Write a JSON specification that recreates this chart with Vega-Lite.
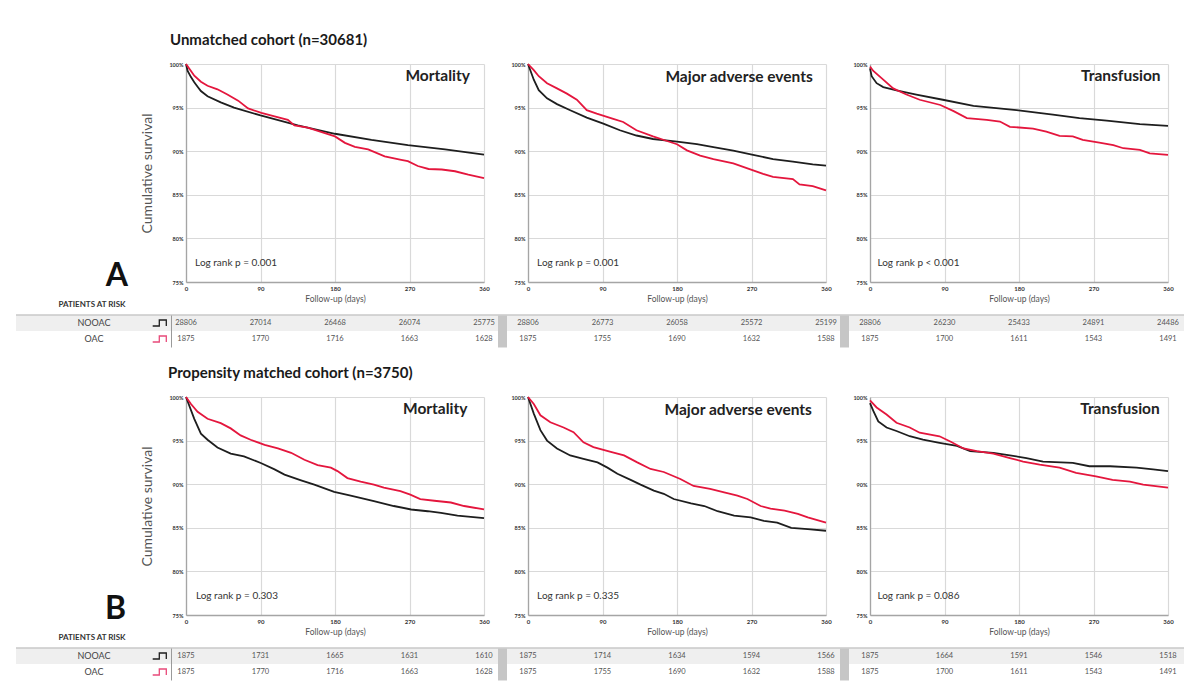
{
"$schema":"https://vega.github.io/schema/vega-lite/v6.json",
"background":"white",
"padding":{"left":15,"top":33,"right":7,"bottom":9},
"datasets":{
"A_Mortality":[
{"group":"NOOAC","day":0,"surv":100},{"group":"NOOAC","day":2,"surv":99.2},{"group":"NOOAC","day":6,"surv":98.5},{"group":"NOOAC","day":10,"surv":97.9},{"group":"NOOAC","day":14,"surv":97.4},{"group":"NOOAC","day":18,"surv":96.9},{"group":"NOOAC","day":26,"surv":96.3},{"group":"NOOAC","day":42,"surv":95.6},{"group":"NOOAC","day":58,"surv":95.0},{"group":"NOOAC","day":90,"surv":94.1},{"group":"NOOAC","day":135,"surv":92.95},{"group":"NOOAC","day":180,"surv":92.0},{"group":"NOOAC","day":224,"surv":91.3},{"group":"NOOAC","day":268,"surv":90.7},{"group":"NOOAC","day":313,"surv":90.2},{"group":"NOOAC","day":360,"surv":89.6},
{"group":"OAC","day":0,"surv":100},{"group":"OAC","day":6,"surv":99.2},{"group":"OAC","day":10,"surv":98.65},{"group":"OAC","day":18,"surv":97.96},{"group":"OAC","day":26,"surv":97.5},{"group":"OAC","day":38,"surv":97.1},{"group":"OAC","day":50,"surv":96.5},{"group":"OAC","day":63,"surv":95.8},{"group":"OAC","day":75,"surv":94.9},{"group":"OAC","day":91,"surv":94.4},{"group":"OAC","day":107,"surv":94.0},{"group":"OAC","day":123,"surv":93.6},{"group":"OAC","day":131,"surv":92.96},{"group":"OAC","day":147,"surv":92.7},{"group":"OAC","day":164,"surv":92.2},{"group":"OAC","day":180,"surv":91.7},{"group":"OAC","day":192,"surv":90.96},{"group":"OAC","day":204,"surv":90.5},{"group":"OAC","day":220,"surv":90.2},{"group":"OAC","day":240,"surv":89.4},{"group":"OAC","day":260,"surv":89.0},{"group":"OAC","day":268,"surv":88.85},{"group":"OAC","day":280,"surv":88.3},{"group":"OAC","day":293,"surv":87.96},{"group":"OAC","day":309,"surv":87.9},{"group":"OAC","day":325,"surv":87.7},{"group":"OAC","day":341,"surv":87.3},{"group":"OAC","day":360,"surv":86.9}],
"A_MAE":[
{"group":"NOOAC","day":0,"surv":100},{"group":"NOOAC","day":7,"surv":98.2},{"group":"NOOAC","day":13,"surv":97.0},{"group":"NOOAC","day":23,"surv":96.06},{"group":"NOOAC","day":35,"surv":95.4},{"group":"NOOAC","day":51,"surv":94.7},{"group":"NOOAC","day":71,"surv":93.86},{"group":"NOOAC","day":91,"surv":93.16},{"group":"NOOAC","day":111,"surv":92.4},{"group":"NOOAC","day":131,"surv":91.8},{"group":"NOOAC","day":151,"surv":91.4},{"group":"NOOAC","day":180,"surv":91.1},{"group":"NOOAC","day":204,"surv":90.8},{"group":"NOOAC","day":224,"surv":90.46},{"group":"NOOAC","day":248,"surv":90.07},{"group":"NOOAC","day":272,"surv":89.57},{"group":"NOOAC","day":296,"surv":89.1},{"group":"NOOAC","day":320,"surv":88.8},{"group":"NOOAC","day":344,"surv":88.5},{"group":"NOOAC","day":360,"surv":88.35},
{"group":"OAC","day":0,"surv":100},{"group":"OAC","day":7,"surv":99.3},{"group":"OAC","day":13,"surv":98.6},{"group":"OAC","day":23,"surv":97.8},{"group":"OAC","day":35,"surv":97.2},{"group":"OAC","day":47,"surv":96.6},{"group":"OAC","day":59,"surv":95.9},{"group":"OAC","day":71,"surv":94.7},{"group":"OAC","day":83,"surv":94.3},{"group":"OAC","day":103,"surv":93.7},{"group":"OAC","day":115,"surv":93.35},{"group":"OAC","day":131,"surv":92.4},{"group":"OAC","day":151,"surv":91.7},{"group":"OAC","day":167,"surv":91.2},{"group":"OAC","day":180,"surv":90.8},{"group":"OAC","day":192,"surv":90.1},{"group":"OAC","day":208,"surv":89.5},{"group":"OAC","day":224,"surv":89.1},{"group":"OAC","day":248,"surv":88.6},{"group":"OAC","day":272,"surv":87.8},{"group":"OAC","day":284,"surv":87.4},{"group":"OAC","day":296,"surv":87.05},{"group":"OAC","day":320,"surv":86.8},{"group":"OAC","day":328,"surv":86.2},{"group":"OAC","day":344,"surv":86.0},{"group":"OAC","day":360,"surv":85.5}],
"A_Transfusion":[
{"group":"NOOAC","day":0,"surv":99.5},{"group":"NOOAC","day":2,"surv":98.6},{"group":"NOOAC","day":8,"surv":97.8},{"group":"NOOAC","day":16,"surv":97.35},{"group":"NOOAC","day":32,"surv":96.97},{"group":"NOOAC","day":56,"surv":96.5},{"group":"NOOAC","day":88,"surv":95.9},{"group":"NOOAC","day":125,"surv":95.2},{"group":"NOOAC","day":177,"surv":94.7},{"group":"NOOAC","day":221,"surv":94.2},{"group":"NOOAC","day":253,"surv":93.8},{"group":"NOOAC","day":286,"surv":93.5},{"group":"NOOAC","day":326,"surv":93.1},{"group":"NOOAC","day":360,"surv":92.9},
{"group":"OAC","day":0,"surv":99.7},{"group":"OAC","day":4,"surv":99.2},{"group":"OAC","day":16,"surv":98.2},{"group":"OAC","day":28,"surv":97.2},{"group":"OAC","day":44,"surv":96.5},{"group":"OAC","day":60,"surv":95.9},{"group":"OAC","day":85,"surv":95.3},{"group":"OAC","day":101,"surv":94.6},{"group":"OAC","day":117,"surv":93.8},{"group":"OAC","day":141,"surv":93.6},{"group":"OAC","day":157,"surv":93.4},{"group":"OAC","day":169,"surv":92.8},{"group":"OAC","day":197,"surv":92.6},{"group":"OAC","day":213,"surv":92.25},{"group":"OAC","day":229,"surv":91.75},{"group":"OAC","day":245,"surv":91.7},{"group":"OAC","day":257,"surv":91.3},{"group":"OAC","day":277,"surv":90.99},{"group":"OAC","day":294,"surv":90.7},{"group":"OAC","day":306,"surv":90.34},{"group":"OAC","day":326,"surv":90.15},{"group":"OAC","day":338,"surv":89.76},{"group":"OAC","day":360,"surv":89.57}],
"B_Mortality":[
{"group":"NOOAC","day":0,"surv":100},{"group":"NOOAC","day":10,"surv":97.5},{"group":"NOOAC","day":18,"surv":95.8},{"group":"NOOAC","day":26,"surv":95.1},{"group":"NOOAC","day":38,"surv":94.2},{"group":"NOOAC","day":54,"surv":93.5},{"group":"NOOAC","day":70,"surv":93.2},{"group":"NOOAC","day":91,"surv":92.4},{"group":"NOOAC","day":107,"surv":91.7},{"group":"NOOAC","day":119,"surv":91.1},{"group":"NOOAC","day":139,"surv":90.45},{"group":"NOOAC","day":155,"surv":89.96},{"group":"NOOAC","day":179,"surv":89.13},{"group":"NOOAC","day":199,"surv":88.7},{"group":"NOOAC","day":227,"surv":88.07},{"group":"NOOAC","day":251,"surv":87.5},{"group":"NOOAC","day":272,"surv":87.1},{"group":"NOOAC","day":292,"surv":86.9},{"group":"NOOAC","day":308,"surv":86.7},{"group":"NOOAC","day":328,"surv":86.4},{"group":"NOOAC","day":360,"surv":86.1},
{"group":"OAC","day":0,"surv":100},{"group":"OAC","day":6,"surv":99.2},{"group":"OAC","day":14,"surv":98.3},{"group":"OAC","day":26,"surv":97.5},{"group":"OAC","day":42,"surv":97.0},{"group":"OAC","day":54,"surv":96.4},{"group":"OAC","day":66,"surv":95.6},{"group":"OAC","day":78,"surv":95.1},{"group":"OAC","day":95,"surv":94.5},{"group":"OAC","day":111,"surv":94.1},{"group":"OAC","day":127,"surv":93.6},{"group":"OAC","day":143,"surv":92.8},{"group":"OAC","day":159,"surv":92.2},{"group":"OAC","day":175,"surv":91.9},{"group":"OAC","day":183,"surv":91.5},{"group":"OAC","day":195,"surv":90.7},{"group":"OAC","day":211,"surv":90.3},{"group":"OAC","day":227,"surv":89.96},{"group":"OAC","day":239,"surv":89.6},{"group":"OAC","day":259,"surv":89.2},{"group":"OAC","day":271,"surv":88.8},{"group":"OAC","day":283,"surv":88.3},{"group":"OAC","day":300,"surv":88.1},{"group":"OAC","day":320,"surv":87.9},{"group":"OAC","day":336,"surv":87.5},{"group":"OAC","day":360,"surv":87.1}],
"B_MAE":[
{"group":"NOOAC","day":0,"surv":100},{"group":"NOOAC","day":7,"surv":98.1},{"group":"NOOAC","day":15,"surv":96.2},{"group":"NOOAC","day":23,"surv":95.0},{"group":"NOOAC","day":35,"surv":94.1},{"group":"NOOAC","day":51,"surv":93.3},{"group":"NOOAC","day":67,"surv":92.9},{"group":"NOOAC","day":84,"surv":92.5},{"group":"NOOAC","day":96,"surv":91.9},{"group":"NOOAC","day":108,"surv":91.2},{"group":"NOOAC","day":124,"surv":90.5},{"group":"NOOAC","day":136,"surv":89.95},{"group":"NOOAC","day":152,"surv":89.26},{"group":"NOOAC","day":164,"surv":88.9},{"group":"NOOAC","day":176,"surv":88.3},{"group":"NOOAC","day":197,"surv":87.8},{"group":"NOOAC","day":213,"surv":87.5},{"group":"NOOAC","day":229,"surv":86.9},{"group":"NOOAC","day":249,"surv":86.4},{"group":"NOOAC","day":269,"surv":86.2},{"group":"NOOAC","day":285,"surv":85.8},{"group":"NOOAC","day":301,"surv":85.6},{"group":"NOOAC","day":318,"surv":85.0},{"group":"NOOAC","day":338,"surv":84.85},{"group":"NOOAC","day":360,"surv":84.66},
{"group":"OAC","day":0,"surv":100},{"group":"OAC","day":7,"surv":99.2},{"group":"OAC","day":15,"surv":97.9},{"group":"OAC","day":27,"surv":97.1},{"group":"OAC","day":43,"surv":96.5},{"group":"OAC","day":55,"surv":95.97},{"group":"OAC","day":67,"surv":94.8},{"group":"OAC","day":79,"surv":94.25},{"group":"OAC","day":100,"surv":93.7},{"group":"OAC","day":116,"surv":93.3},{"group":"OAC","day":132,"surv":92.5},{"group":"OAC","day":148,"surv":91.75},{"group":"OAC","day":164,"surv":91.4},{"group":"OAC","day":184,"surv":90.6},{"group":"OAC","day":200,"surv":89.8},{"group":"OAC","day":220,"surv":89.46},{"group":"OAC","day":237,"surv":89.07},{"group":"OAC","day":253,"surv":88.7},{"group":"OAC","day":265,"surv":88.3},{"group":"OAC","day":281,"surv":87.5},{"group":"OAC","day":293,"surv":87.2},{"group":"OAC","day":310,"surv":86.96},{"group":"OAC","day":326,"surv":86.6},{"group":"OAC","day":338,"surv":86.2},{"group":"OAC","day":360,"surv":85.6}],
"B_Transfusion":[
{"group":"NOOAC","day":0,"surv":99.3},{"group":"NOOAC","day":4,"surv":98.4},{"group":"NOOAC","day":10,"surv":97.2},{"group":"NOOAC","day":20,"surv":96.5},{"group":"NOOAC","day":32,"surv":96.1},{"group":"NOOAC","day":48,"surv":95.5},{"group":"NOOAC","day":64,"surv":95.1},{"group":"NOOAC","day":84,"surv":94.75},{"group":"NOOAC","day":105,"surv":94.4},{"group":"NOOAC","day":121,"surv":93.8},{"group":"NOOAC","day":149,"surv":93.6},{"group":"NOOAC","day":169,"surv":93.3},{"group":"NOOAC","day":189,"surv":93.0},{"group":"NOOAC","day":209,"surv":92.6},{"group":"NOOAC","day":245,"surv":92.45},{"group":"NOOAC","day":265,"surv":92.06},{"group":"NOOAC","day":290,"surv":92.06},{"group":"NOOAC","day":322,"surv":91.9},{"group":"NOOAC","day":342,"surv":91.7},{"group":"NOOAC","day":360,"surv":91.5},
{"group":"OAC","day":0,"surv":99.6},{"group":"OAC","day":8,"surv":98.8},{"group":"OAC","day":20,"surv":98.0},{"group":"OAC","day":32,"surv":97.05},{"group":"OAC","day":48,"surv":96.5},{"group":"OAC","day":60,"surv":95.9},{"group":"OAC","day":84,"surv":95.5},{"group":"OAC","day":97,"surv":94.9},{"group":"OAC","day":113,"surv":94.1},{"group":"OAC","day":129,"surv":93.8},{"group":"OAC","day":149,"surv":93.5},{"group":"OAC","day":169,"surv":93.0},{"group":"OAC","day":185,"surv":92.6},{"group":"OAC","day":205,"surv":92.25},{"group":"OAC","day":229,"surv":91.9},{"group":"OAC","day":249,"surv":91.3},{"group":"OAC","day":273,"surv":90.9},{"group":"OAC","day":293,"surv":90.5},{"group":"OAC","day":314,"surv":90.3},{"group":"OAC","day":330,"surv":89.95},{"group":"OAC","day":360,"surv":89.6}],
"risk":[
{"cohort":"A","outcome":"Mortality","group":"NOOAC","day":0,"n":28806},{"cohort":"A","outcome":"Mortality","group":"NOOAC","day":90,"n":27014},{"cohort":"A","outcome":"Mortality","group":"NOOAC","day":180,"n":26468},{"cohort":"A","outcome":"Mortality","group":"NOOAC","day":270,"n":26074},{"cohort":"A","outcome":"Mortality","group":"NOOAC","day":360,"n":25775},
{"cohort":"A","outcome":"Mortality","group":"OAC","day":0,"n":1875},{"cohort":"A","outcome":"Mortality","group":"OAC","day":90,"n":1770},{"cohort":"A","outcome":"Mortality","group":"OAC","day":180,"n":1716},{"cohort":"A","outcome":"Mortality","group":"OAC","day":270,"n":1663},{"cohort":"A","outcome":"Mortality","group":"OAC","day":360,"n":1628},
{"cohort":"A","outcome":"MAE","group":"NOOAC","day":0,"n":28806},{"cohort":"A","outcome":"MAE","group":"NOOAC","day":90,"n":26773},{"cohort":"A","outcome":"MAE","group":"NOOAC","day":180,"n":26058},{"cohort":"A","outcome":"MAE","group":"NOOAC","day":270,"n":25572},{"cohort":"A","outcome":"MAE","group":"NOOAC","day":360,"n":25199},
{"cohort":"A","outcome":"MAE","group":"OAC","day":0,"n":1875},{"cohort":"A","outcome":"MAE","group":"OAC","day":90,"n":1755},{"cohort":"A","outcome":"MAE","group":"OAC","day":180,"n":1690},{"cohort":"A","outcome":"MAE","group":"OAC","day":270,"n":1632},{"cohort":"A","outcome":"MAE","group":"OAC","day":360,"n":1588},
{"cohort":"A","outcome":"Transfusion","group":"NOOAC","day":0,"n":28806},{"cohort":"A","outcome":"Transfusion","group":"NOOAC","day":90,"n":26230},{"cohort":"A","outcome":"Transfusion","group":"NOOAC","day":180,"n":25433},{"cohort":"A","outcome":"Transfusion","group":"NOOAC","day":270,"n":24891},{"cohort":"A","outcome":"Transfusion","group":"NOOAC","day":360,"n":24486},
{"cohort":"A","outcome":"Transfusion","group":"OAC","day":0,"n":1875},{"cohort":"A","outcome":"Transfusion","group":"OAC","day":90,"n":1700},{"cohort":"A","outcome":"Transfusion","group":"OAC","day":180,"n":1611},{"cohort":"A","outcome":"Transfusion","group":"OAC","day":270,"n":1543},{"cohort":"A","outcome":"Transfusion","group":"OAC","day":360,"n":1491},
{"cohort":"B","outcome":"Mortality","group":"NOOAC","day":0,"n":1875},{"cohort":"B","outcome":"Mortality","group":"NOOAC","day":90,"n":1731},{"cohort":"B","outcome":"Mortality","group":"NOOAC","day":180,"n":1665},{"cohort":"B","outcome":"Mortality","group":"NOOAC","day":270,"n":1631},{"cohort":"B","outcome":"Mortality","group":"NOOAC","day":360,"n":1610},
{"cohort":"B","outcome":"Mortality","group":"OAC","day":0,"n":1875},{"cohort":"B","outcome":"Mortality","group":"OAC","day":90,"n":1770},{"cohort":"B","outcome":"Mortality","group":"OAC","day":180,"n":1716},{"cohort":"B","outcome":"Mortality","group":"OAC","day":270,"n":1663},{"cohort":"B","outcome":"Mortality","group":"OAC","day":360,"n":1628},
{"cohort":"B","outcome":"MAE","group":"NOOAC","day":0,"n":1875},{"cohort":"B","outcome":"MAE","group":"NOOAC","day":90,"n":1714},{"cohort":"B","outcome":"MAE","group":"NOOAC","day":180,"n":1634},{"cohort":"B","outcome":"MAE","group":"NOOAC","day":270,"n":1594},{"cohort":"B","outcome":"MAE","group":"NOOAC","day":360,"n":1566},
{"cohort":"B","outcome":"MAE","group":"OAC","day":0,"n":1875},{"cohort":"B","outcome":"MAE","group":"OAC","day":90,"n":1755},{"cohort":"B","outcome":"MAE","group":"OAC","day":180,"n":1690},{"cohort":"B","outcome":"MAE","group":"OAC","day":270,"n":1632},{"cohort":"B","outcome":"MAE","group":"OAC","day":360,"n":1588},
{"cohort":"B","outcome":"Transfusion","group":"NOOAC","day":0,"n":1875},{"cohort":"B","outcome":"Transfusion","group":"NOOAC","day":90,"n":1664},{"cohort":"B","outcome":"Transfusion","group":"NOOAC","day":180,"n":1591},{"cohort":"B","outcome":"Transfusion","group":"NOOAC","day":270,"n":1546},{"cohort":"B","outcome":"Transfusion","group":"NOOAC","day":360,"n":1518},
{"cohort":"B","outcome":"Transfusion","group":"OAC","day":0,"n":1875},{"cohort":"B","outcome":"Transfusion","group":"OAC","day":90,"n":1700},{"cohort":"B","outcome":"Transfusion","group":"OAC","day":180,"n":1611},{"cohort":"B","outcome":"Transfusion","group":"OAC","day":270,"n":1543},{"cohort":"B","outcome":"Transfusion","group":"OAC","day":360,"n":1491}]
},
"columns":4,
"align":"each",
"bounds":"flush",
"spacing":{"row":33,"column":0},
"resolve":{"scale":{"x":"independent","y":"independent","color":"independent"}},
"concat":[
{"width":170,"height":218,"title":{"text":"A","orient":"bottom","anchor":"end","frame":"group","fontSize":32,"fontWeight":"bold","color":"#111","dx":-58,"offset":-21},"data":{"values":[]},"mark":"text","encoding":{}},
{"width":298,"height":218,
 "title":{"text":"Unmatched cohort (n=30681)","anchor":"start","frame":"group","fontSize":15,"fontWeight":"bold","color":"#1a1a1a","dx":-16,"offset":12},
 "layer":[
  {"data":{"name":"A_Mortality"},"mark":{"type":"line","strokeWidth":1.8},"encoding":{
   "x":{"field":"day","type":"quantitative","scale":{"domain":[0,360],"nice":false},"axis":{"values":[0,90,180,270,360],"title":"Follow-up (days)","grid":true}},
   "y":{"field":"surv","type":"quantitative","scale":{"domain":[75,100],"nice":false,"zero":false},"axis":{"values":[75,80,85,90,95,100],"labelExpr":"datum.value + '%'","title":"Cumulative survival","grid":true}},
   "color":{"field":"group","type":"nominal","scale":{"domain":["NOOAC","OAC"],"range":["#1e1e1e","#e4163d"]},"legend":null}}},
  {"data":{"values":[{"label":"Mortality"}]},"mark":{"type":"text","align":"right","baseline":"middle","fontSize":15.5,"fontWeight":"bold","color":"#222"},"encoding":{"text":{"field":"label","type":"nominal"},"x":{"datum":343},"y":{"datum":98.6}}},
  {"data":{"values":[{"label":"Log rank p = 0.001"}]},"mark":{"type":"text","align":"left","baseline":"middle","fontSize":10,"color":"#333"},"encoding":{"text":{"field":"label","type":"nominal"},"x":{"datum":11},"y":{"datum":77.2}}}
 ]},
{"width":298,"height":218,
 "layer":[
  {"data":{"name":"A_MAE"},"mark":{"type":"line","strokeWidth":1.8},"encoding":{
   "x":{"field":"day","type":"quantitative","scale":{"domain":[0,360],"nice":false},"axis":{"values":[0,90,180,270,360],"title":"Follow-up (days)","grid":true}},
   "y":{"field":"surv","type":"quantitative","scale":{"domain":[75,100],"nice":false,"zero":false},"axis":{"values":[75,80,85,90,95,100],"labelExpr":"datum.value + '%'","title":null,"grid":true}},
   "color":{"field":"group","type":"nominal","scale":{"domain":["NOOAC","OAC"],"range":["#1e1e1e","#e4163d"]},"legend":null}}},
  {"data":{"values":[{"label":"Major adverse events"}]},"mark":{"type":"text","align":"right","baseline":"middle","fontSize":15.5,"fontWeight":"bold","color":"#222"},"encoding":{"text":{"field":"label","type":"nominal"},"x":{"datum":344},"y":{"datum":98.5}}},
  {"data":{"values":[{"label":"Log rank p = 0.001"}]},"mark":{"type":"text","align":"left","baseline":"middle","fontSize":10,"color":"#333"},"encoding":{"text":{"field":"label","type":"nominal"},"x":{"datum":11},"y":{"datum":77.2}}}
 ]},
{"width":298,"height":218,
 "layer":[
  {"data":{"name":"A_Transfusion"},"mark":{"type":"line","strokeWidth":1.8},"encoding":{
   "x":{"field":"day","type":"quantitative","scale":{"domain":[0,360],"nice":false},"axis":{"values":[0,90,180,270,360],"title":"Follow-up (days)","grid":true}},
   "y":{"field":"surv","type":"quantitative","scale":{"domain":[75,100],"nice":false,"zero":false},"axis":{"values":[75,80,85,90,95,100],"labelExpr":"datum.value + '%'","title":null,"grid":true}},
   "color":{"field":"group","type":"nominal","scale":{"domain":["NOOAC","OAC"],"range":["#1e1e1e","#e4163d"]},"legend":null}}},
  {"data":{"values":[{"label":"Transfusion"}]},"mark":{"type":"text","align":"right","baseline":"middle","fontSize":15.5,"fontWeight":"bold","color":"#222"},"encoding":{"text":{"field":"label","type":"nominal"},"x":{"datum":351},"y":{"datum":98.6}}},
  {"data":{"values":[{"label":"Log rank p < 0.001"}]},"mark":{"type":"text","align":"left","baseline":"middle","fontSize":10,"color":"#333"},"encoding":{"text":{"field":"label","type":"nominal"},"x":{"datum":9},"y":{"datum":77.2}}}
 ]},
{"width":170,"height":49,
 "title":{"text":"PATIENTS AT RISK","anchor":"middle","frame":"group","fontSize":8,"fontWeight":"bold","color":"#333","dx":-9,"offset":5},
 "data":{"values":[{"group":"NOOAC"},{"group":"OAC"}]},
 "encoding":{"y":{"field":"group","type":"nominal","scale":{"domain":["NOOAC","OAC"],"range":[0,32],"paddingInner":0,"paddingOuter":0},"axis":null}},
 "layer":[
  {"transform":[{"filter":"datum.group=='NOOAC'"}],"mark":{"type":"rect","color":"#efefef"}},
  {"transform":[{"filter":"datum.group=='NOOAC'"}],"mark":{"type":"rule","color":"#c9c9c9","strokeWidth":1.5},"encoding":{"y":{"field":"group","type":"nominal","bandPosition":0}}},
  {"mark":{"type":"text","fontSize":9,"color":"#444","dx":-7},"encoding":{"text":{"field":"group","type":"nominal"}}},
  {"mark":{"type":"point","shape":"M5.17,0.3L5.83,0.3L5.83,-0.3L6.53,-0.3L6.53,0.3","size":400,"filled":false,"strokeWidth":1.3,"opacity":1},"encoding":{"color":{"field":"group","type":"nominal","scale":{"domain":["NOOAC","OAC"],"range":["#1e1e1e","#e84a7a"]},"legend":null}}}
 ]},
{"width":342,"height":49,
 "data":{"name":"risk"},
 "transform":[{"filter":"datum.cohort=='A' && datum.outcome=='Mortality'"}],
 "encoding":{"y":{"field":"group","type":"nominal","scale":{"domain":["NOOAC","OAC"],"range":[0,32],"paddingInner":0,"paddingOuter":0},"axis":{"title":null,"labels":false,"ticks":false,"grid":false,"domain":true,"domainColor":"#9a9a9a","domainWidth":1,"offset":15}}},
 "layer":[
  {"transform":[{"filter":"datum.group=='NOOAC' && datum.day==0"}],"mark":{"type":"rect","color":"#efefef"}},
  {"transform":[{"filter":"datum.group=='NOOAC' && datum.day==0"}],"mark":{"type":"rule","color":"#c9c9c9","strokeWidth":1.5},"encoding":{"y":{"field":"group","type":"nominal","bandPosition":0}}},
  {"mark":{"type":"text","fontSize":7.5,"color":"#555"},"encoding":{"x":{"field":"day","type":"quantitative","scale":{"domain":[0,413.15],"nice":false,"zero":false},"axis":null},"text":{"field":"n","type":"nominal"}}}
 ]},
{"width":342,"height":49,
 "data":{"name":"risk"},
 "transform":[{"filter":"datum.cohort=='A' && datum.outcome=='MAE'"}],
 "encoding":{"y":{"field":"group","type":"nominal","scale":{"domain":["NOOAC","OAC"],"range":[0,32],"paddingInner":0,"paddingOuter":0},"axis":{"title":null,"labels":false,"ticks":false,"grid":false,"domain":true,"domainColor":"#c6c6c6","domainWidth":9,"offset":26}}},
 "layer":[
  {"transform":[{"filter":"datum.group=='NOOAC' && datum.day==0"}],"mark":{"type":"rect","color":"#efefef"}},
  {"transform":[{"filter":"datum.group=='NOOAC' && datum.day==0"}],"mark":{"type":"rule","color":"#c9c9c9","strokeWidth":1.5},"encoding":{"y":{"field":"group","type":"nominal","bandPosition":0}}},
  {"mark":{"type":"text","fontSize":7.5,"color":"#555"},"encoding":{"x":{"field":"day","type":"quantitative","scale":{"domain":[0,413.15],"nice":false,"zero":false},"axis":null},"text":{"field":"n","type":"nominal"}}}
 ]},
{"width":314,"height":49,
 "data":{"name":"risk"},
 "transform":[{"filter":"datum.cohort=='A' && datum.outcome=='Transfusion'"}],
 "encoding":{"y":{"field":"group","type":"nominal","scale":{"domain":["NOOAC","OAC"],"range":[0,32],"paddingInner":0,"paddingOuter":0},"axis":{"title":null,"labels":false,"ticks":false,"grid":false,"domain":true,"domainColor":"#c6c6c6","domainWidth":9,"offset":26}}},
 "layer":[
  {"transform":[{"filter":"datum.group=='NOOAC' && datum.day==0"}],"mark":{"type":"rect","color":"#efefef"}},
  {"transform":[{"filter":"datum.group=='NOOAC' && datum.day==0"}],"mark":{"type":"rule","color":"#c9c9c9","strokeWidth":1.5},"encoding":{"y":{"field":"group","type":"nominal","bandPosition":0}}},
  {"mark":{"type":"text","fontSize":7.5,"color":"#555"},"encoding":{"x":{"field":"day","type":"quantitative","scale":{"domain":[0,379.33],"nice":false,"zero":false},"axis":null},"text":{"field":"n","type":"nominal"}}}
 ]},
{"width":170,"height":218,"title":{"text":"B","orient":"bottom","anchor":"end","frame":"group","fontSize":32,"fontWeight":"bold","color":"#111","dx":-60,"offset":-21},"data":{"values":[]},"mark":"text","encoding":{}},
{"width":298,"height":218,
 "title":{"text":"Propensity matched cohort (n=3750)","anchor":"start","frame":"group","fontSize":15,"fontWeight":"bold","color":"#1a1a1a","dx":-18,"offset":12},
 "layer":[
  {"data":{"name":"B_Mortality"},"mark":{"type":"line","strokeWidth":1.8},"encoding":{
   "x":{"field":"day","type":"quantitative","scale":{"domain":[0,360],"nice":false},"axis":{"values":[0,90,180,270,360],"title":"Follow-up (days)","grid":true}},
   "y":{"field":"surv","type":"quantitative","scale":{"domain":[75,100],"nice":false,"zero":false},"axis":{"values":[75,80,85,90,95,100],"labelExpr":"datum.value + '%'","title":"Cumulative survival","grid":true}},
   "color":{"field":"group","type":"nominal","scale":{"domain":["NOOAC","OAC"],"range":["#1e1e1e","#e4163d"]},"legend":null}}},
  {"data":{"values":[{"label":"Mortality"}]},"mark":{"type":"text","align":"right","baseline":"middle","fontSize":15.5,"fontWeight":"bold","color":"#222"},"encoding":{"text":{"field":"label","type":"nominal"},"x":{"datum":340},"y":{"datum":98.6}}},
  {"data":{"values":[{"label":"Log rank p = 0.303"}]},"mark":{"type":"text","align":"left","baseline":"middle","fontSize":10,"color":"#333"},"encoding":{"text":{"field":"label","type":"nominal"},"x":{"datum":12},"y":{"datum":77.2}}}
 ]},
{"width":298,"height":218,
 "layer":[
  {"data":{"name":"B_MAE"},"mark":{"type":"line","strokeWidth":1.8},"encoding":{
   "x":{"field":"day","type":"quantitative","scale":{"domain":[0,360],"nice":false},"axis":{"values":[0,90,180,270,360],"title":"Follow-up (days)","grid":true}},
   "y":{"field":"surv","type":"quantitative","scale":{"domain":[75,100],"nice":false,"zero":false},"axis":{"values":[75,80,85,90,95,100],"labelExpr":"datum.value + '%'","title":null,"grid":true}},
   "color":{"field":"group","type":"nominal","scale":{"domain":["NOOAC","OAC"],"range":["#1e1e1e","#e4163d"]},"legend":null}}},
  {"data":{"values":[{"label":"Major adverse events"}]},"mark":{"type":"text","align":"right","baseline":"middle","fontSize":15.5,"fontWeight":"bold","color":"#222"},"encoding":{"text":{"field":"label","type":"nominal"},"x":{"datum":343},"y":{"datum":98.5}}},
  {"data":{"values":[{"label":"Log rank p = 0.335"}]},"mark":{"type":"text","align":"left","baseline":"middle","fontSize":10,"color":"#333"},"encoding":{"text":{"field":"label","type":"nominal"},"x":{"datum":11},"y":{"datum":77.2}}}
 ]},
{"width":298,"height":218,
 "layer":[
  {"data":{"name":"B_Transfusion"},"mark":{"type":"line","strokeWidth":1.8},"encoding":{
   "x":{"field":"day","type":"quantitative","scale":{"domain":[0,360],"nice":false},"axis":{"values":[0,90,180,270,360],"title":"Follow-up (days)","grid":true}},
   "y":{"field":"surv","type":"quantitative","scale":{"domain":[75,100],"nice":false,"zero":false},"axis":{"values":[75,80,85,90,95,100],"labelExpr":"datum.value + '%'","title":null,"grid":true}},
   "color":{"field":"group","type":"nominal","scale":{"domain":["NOOAC","OAC"],"range":["#1e1e1e","#e4163d"]},"legend":null}}},
  {"data":{"values":[{"label":"Transfusion"}]},"mark":{"type":"text","align":"right","baseline":"middle","fontSize":15.5,"fontWeight":"bold","color":"#222"},"encoding":{"text":{"field":"label","type":"nominal"},"x":{"datum":350},"y":{"datum":98.6}}},
  {"data":{"values":[{"label":"Log rank p = 0.086"}]},"mark":{"type":"text","align":"left","baseline":"middle","fontSize":10,"color":"#333"},"encoding":{"text":{"field":"label","type":"nominal"},"x":{"datum":9},"y":{"datum":77.2}}}
 ]},
{"width":170,"height":32,
 "title":{"text":"PATIENTS AT RISK","anchor":"middle","frame":"group","fontSize":8,"fontWeight":"bold","color":"#333","dx":-9,"offset":5},
 "data":{"values":[{"group":"NOOAC"},{"group":"OAC"}]},
 "encoding":{"y":{"field":"group","type":"nominal","scale":{"domain":["NOOAC","OAC"],"range":[0,32],"paddingInner":0,"paddingOuter":0},"axis":null}},
 "layer":[
  {"transform":[{"filter":"datum.group=='NOOAC'"}],"mark":{"type":"rect","color":"#efefef"}},
  {"transform":[{"filter":"datum.group=='NOOAC'"}],"mark":{"type":"rule","color":"#c9c9c9","strokeWidth":1.5},"encoding":{"y":{"field":"group","type":"nominal","bandPosition":0}}},
  {"mark":{"type":"text","fontSize":9,"color":"#444","dx":-7},"encoding":{"text":{"field":"group","type":"nominal"}}},
  {"mark":{"type":"point","shape":"M5.17,0.3L5.83,0.3L5.83,-0.3L6.53,-0.3L6.53,0.3","size":400,"filled":false,"strokeWidth":1.3,"opacity":1},"encoding":{"color":{"field":"group","type":"nominal","scale":{"domain":["NOOAC","OAC"],"range":["#1e1e1e","#e84a7a"]},"legend":null}}}
 ]},
{"width":342,"height":32,
 "data":{"name":"risk"},
 "transform":[{"filter":"datum.cohort=='B' && datum.outcome=='Mortality'"}],
 "encoding":{"y":{"field":"group","type":"nominal","scale":{"domain":["NOOAC","OAC"],"range":[0,32],"paddingInner":0,"paddingOuter":0},"axis":{"title":null,"labels":false,"ticks":false,"grid":false,"domain":true,"domainColor":"#9a9a9a","domainWidth":1,"offset":15}}},
 "layer":[
  {"transform":[{"filter":"datum.group=='NOOAC' && datum.day==0"}],"mark":{"type":"rect","color":"#efefef"}},
  {"transform":[{"filter":"datum.group=='NOOAC' && datum.day==0"}],"mark":{"type":"rule","color":"#c9c9c9","strokeWidth":1.5},"encoding":{"y":{"field":"group","type":"nominal","bandPosition":0}}},
  {"mark":{"type":"text","fontSize":7.5,"color":"#555"},"encoding":{"x":{"field":"day","type":"quantitative","scale":{"domain":[0,413.15],"nice":false,"zero":false},"axis":null},"text":{"field":"n","type":"nominal"}}}
 ]},
{"width":342,"height":32,
 "data":{"name":"risk"},
 "transform":[{"filter":"datum.cohort=='B' && datum.outcome=='MAE'"}],
 "encoding":{"y":{"field":"group","type":"nominal","scale":{"domain":["NOOAC","OAC"],"range":[0,32],"paddingInner":0,"paddingOuter":0},"axis":{"title":null,"labels":false,"ticks":false,"grid":false,"domain":true,"domainColor":"#c6c6c6","domainWidth":9,"offset":26}}},
 "layer":[
  {"transform":[{"filter":"datum.group=='NOOAC' && datum.day==0"}],"mark":{"type":"rect","color":"#efefef"}},
  {"transform":[{"filter":"datum.group=='NOOAC' && datum.day==0"}],"mark":{"type":"rule","color":"#c9c9c9","strokeWidth":1.5},"encoding":{"y":{"field":"group","type":"nominal","bandPosition":0}}},
  {"mark":{"type":"text","fontSize":7.5,"color":"#555"},"encoding":{"x":{"field":"day","type":"quantitative","scale":{"domain":[0,413.15],"nice":false,"zero":false},"axis":null},"text":{"field":"n","type":"nominal"}}}
 ]},
{"width":314,"height":32,
 "data":{"name":"risk"},
 "transform":[{"filter":"datum.cohort=='B' && datum.outcome=='Transfusion'"}],
 "encoding":{"y":{"field":"group","type":"nominal","scale":{"domain":["NOOAC","OAC"],"range":[0,32],"paddingInner":0,"paddingOuter":0},"axis":{"title":null,"labels":false,"ticks":false,"grid":false,"domain":true,"domainColor":"#c6c6c6","domainWidth":9,"offset":26}}},
 "layer":[
  {"transform":[{"filter":"datum.group=='NOOAC' && datum.day==0"}],"mark":{"type":"rect","color":"#efefef"}},
  {"transform":[{"filter":"datum.group=='NOOAC' && datum.day==0"}],"mark":{"type":"rule","color":"#c9c9c9","strokeWidth":1.5},"encoding":{"y":{"field":"group","type":"nominal","bandPosition":0}}},
  {"mark":{"type":"text","fontSize":7.5,"color":"#555"},"encoding":{"x":{"field":"day","type":"quantitative","scale":{"domain":[0,379.33],"nice":false,"zero":false},"axis":null},"text":{"field":"n","type":"nominal"}}}
 ]}
],
"config":{
 "font":"Lato",
 "view":{"stroke":null},
 "axis":{"gridColor":"#d9d9d9","gridWidth":1.2,"domainColor":"#a5a5a5","domainWidth":1.3,"ticks":false,"labelFlush":false,"labelOverlap":false,"labelBound":false,"labelColor":"#333","labelFontWeight":"bold","titleFontWeight":"normal","titleColor":"#555"},
 "axisX":{"labelFontSize":6,"labelPadding":3,"titleFontSize":8.5,"titlePadding":3},
 "axisY":{"labelFontSize":5.5,"labelPadding":3,"titleFontSize":14,"titlePadding":14},
 "title":{"font":"Lato"}
}
}
